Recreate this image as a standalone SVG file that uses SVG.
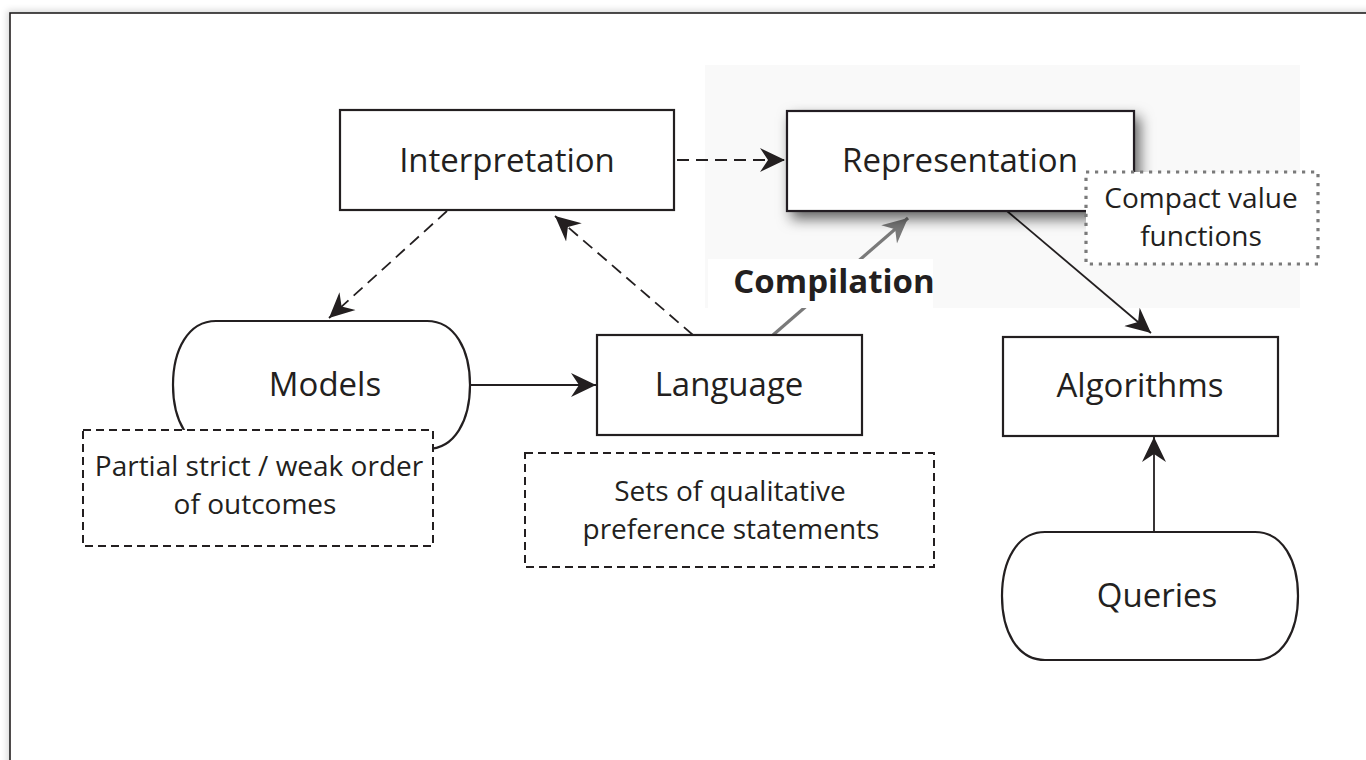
<svg xmlns="http://www.w3.org/2000/svg" width="1366" height="760" viewBox="0 0 1366 760">
  <defs>
    <style>
      .box{fill:#fff;stroke:#231f20;stroke-width:2.2}
      .lbl{font-family:"Open Sans","Noto Sans","Liberation Sans",sans-serif;font-size:33px;fill:#231f20;text-anchor:middle}
      .note{font-family:"Open Sans","Noto Sans","Liberation Sans",sans-serif;font-size:28px;fill:#231f20;text-anchor:middle}
      .dashbox{fill:#fff;stroke:#231f20;stroke-width:2;stroke-dasharray:8 5}
      .dotbox{fill:#fff;stroke:#7a7a7a;stroke-width:3.2;stroke-dasharray:3.2 5.8}
      .edge{fill:none;stroke:#231f20;stroke-width:1.8}
      .dashed{stroke-dasharray:12 7}
    </style>
    <marker id="ah" viewBox="-25 -13 27 26" refX="0" refY="0" markerWidth="27" markerHeight="26" markerUnits="userSpaceOnUse" orient="auto">
      <path d="M0,0 L-25,-12 L-17,0 L-25,12 Z" fill="#231f20"/>
    </marker>
    <marker id="ahg" viewBox="-25 -13 27 26" refX="0" refY="0" markerWidth="27" markerHeight="26" markerUnits="userSpaceOnUse" orient="auto">
      <path d="M0,0 L-25,-12 L-17,0 L-25,12 Z" fill="#7a7a7a"/>
    </marker>
    <filter id="shadow" x="-20%" y="-30%" width="150%" height="180%">
      <feDropShadow dx="5" dy="7" stdDeviation="7" flood-color="#000" flood-opacity="0.6"/>
    </filter>
    <filter id="fshadow" x="-5%" y="-5%" width="110%" height="110%">
      <feDropShadow dx="-2" dy="-2" stdDeviation="3" flood-color="#000" flood-opacity="0.15"/>
    </filter>
  </defs>

  <rect x="0" y="0" width="1366" height="760" fill="#fff"/>
  <rect x="10" y="13" width="1400" height="800" fill="#fff" stroke="#231f20" stroke-width="1.6" filter="url(#fshadow)"/>

  <!-- light grey panel behind Representation -->
  <rect x="705" y="65" width="595" height="243" fill="#f9f9f9"/>

  <g id="connectors">
    <line class="edge dashed" x1="677" y1="160" x2="785" y2="160" marker-end="url(#ah)"/>
    <line class="edge dashed" x1="447" y1="211" x2="329" y2="318" marker-end="url(#ah)"/>
    <line class="edge dashed" x1="693" y1="335" x2="555" y2="216" marker-end="url(#ah)"/>
    <line class="edge" x1="471" y1="385" x2="596" y2="385" marker-end="url(#ah)"/>
    <line class="edge" x1="1007" y1="211" x2="1151" y2="333" marker-end="url(#ah)"/>
    <line class="edge" x1="1154" y1="532" x2="1154" y2="437" marker-end="url(#ah)"/>
    <line x1="773" y1="335" x2="908" y2="218" stroke="#7a7a7a" stroke-width="3.2" marker-end="url(#ahg)"/>
  </g>

  <g id="compilation-label">
    <rect x="708" y="259" width="225" height="49" fill="#fff"/>
    <text x="834" y="293" font-family="'Open Sans','Noto Sans','Liberation Sans',sans-serif" font-size="33" font-weight="bold" fill="#231f20" text-anchor="middle">Compilation</text>
  </g>

  <g id="interpretation">
    <rect class="box" x="340" y="110" width="334" height="100"/>
    <text class="lbl" x="507" y="172">Interpretation</text>
  </g>

  <g id="representation">
    <rect class="box" x="787" y="111" width="347" height="100" filter="url(#shadow)"/>
    <text class="lbl" x="960" y="172">Representation</text>
  </g>

  <g id="compact-value-functions">
    <rect class="dotbox" x="1086" y="172" width="232" height="92"/>
    <text class="note" x="1201" y="208">Compact value</text>
    <text class="note" x="1201" y="246">functions</text>
  </g>

  <g id="models">
    <path class="box" d="M216,321 H427 C455,321 470,350 470,385 C470,420 455,449 427,449 H216 C188,449 173,420 173,385 C173,350 188,321 216,321 Z"/>
    <text class="lbl" x="325" y="396">Models</text>
  </g>

  <g id="partial-order">
    <rect class="dashbox" x="83" y="430" width="350" height="116"/>
    <text class="note" x="259" y="476">Partial strict / weak order</text>
    <text class="note" x="255" y="514">of outcomes</text>
  </g>

  <g id="language">
    <rect class="box" x="597" y="335" width="265" height="100"/>
    <text class="lbl" x="729" y="396">Language</text>
  </g>

  <g id="sets-statements">
    <rect class="dashbox" x="525" y="453" width="409" height="114"/>
    <text class="note" x="730" y="501">Sets of qualitative</text>
    <text class="note" x="731" y="539">preference statements</text>
  </g>

  <g id="algorithms">
    <rect class="box" x="1003" y="337" width="275" height="99"/>
    <text class="lbl" x="1140" y="397">Algorithms</text>
  </g>

  <g id="queries">
    <path class="box" d="M1045,532 H1255 C1283,532 1298,561 1298,596 C1298,631 1283,660 1255,660 H1045 C1017,660 1002,631 1002,596 C1002,561 1017,532 1045,532 Z"/>
    <text class="lbl" x="1157" y="607">Queries</text>
  </g>
</svg>
